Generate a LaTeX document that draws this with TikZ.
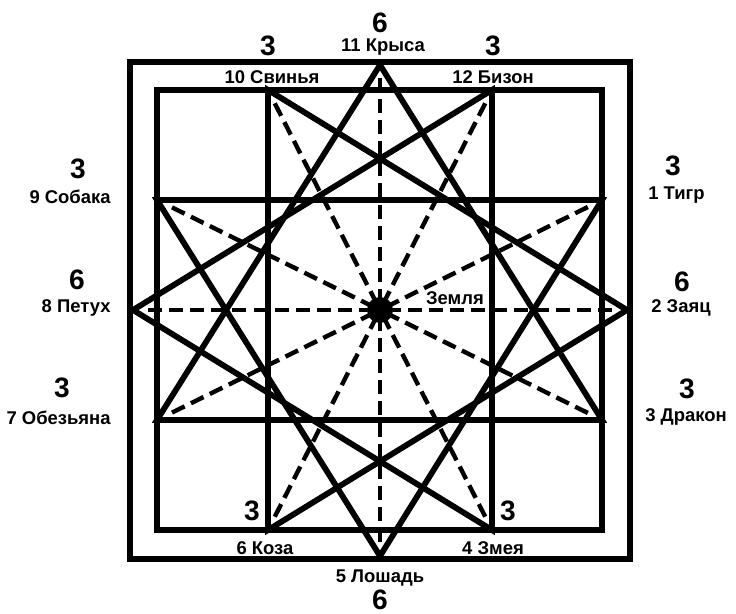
\documentclass[tikz,border=0pt]{standalone}
\usepackage{fontspec}
\setmainfont{Liberation Sans}
\usepackage{tikz}
\usetikzlibrary{calc}

\begin{document}
\begin{tikzpicture}[x=0.02cm, y=-0.02cm,
    frame/.style={line width=3.3pt},
    ray/.style={line width=2.5pt, dash pattern=on 8pt off 4pt, shorten >=7pt, shorten <=4pt},
    sign/.style={font=\bfseries\fontsize{10.5}{12}\selectfont, inner sep=0pt},
    num/.style={font=\bfseries\fontsize{16}{18}\selectfont, inner sep=0pt}]
    \useasboundingbox (0,0) rectangle (736,614);

    % twelve points of the star
    \coordinate (c) at (380,310);
    \coordinate (v1) at (602,200);
    \coordinate (v2) at (627,310);
    \coordinate (v3) at (602,420);
    \coordinate (v4) at (492,530);
    \coordinate (v5) at (380,556);
    \coordinate (v6) at (268,530);
    \coordinate (v7) at (157,420);
    \coordinate (v8) at (133,310);
    \coordinate (v9) at (157,200);
    \coordinate (v10) at (268,90);
    \coordinate (v11) at (380,65);
    \coordinate (v12) at (492,90);

    \foreach \i in {1,...,12}
        \draw[ray] (c) -- (v\i);

    \draw[frame] (130,62) rectangle (630,559);
    \draw[frame] (157,90) rectangle (602,530);
    \foreach \a/\b/\c in {11/3/7, 12/4/8, 1/5/9, 2/6/10}
        \draw[frame] (v\a) -- (v\b) -- (v\c) -- cycle;

    \fill (c) circle (13);
    \node[sign] (earth) at (455,298) {Земля};

    % signs and their numbers
    \node[num]  (n11) at (380,23) {6};
    \node[sign] (l11) at (383,47) {11 Крыса};
    \node[num]  (n10) at (268,46) {3};
    \node[sign] (l10) at (272,77) {10 Свинья};
    \node[num]  (n12) at (493,46) {3};
    \node[sign] (l12) at (493,77) {12 Бизон};

    \node[num]  (n9) at (78,169) {3};
    \node[sign, anchor=east] (l9) at (111,197) {9 Собака};
    \node[num]  (n8) at (77,280) {6};
    \node[sign, anchor=east] (l8) at (111,308) {8 Петух};
    \node[num]  (n7) at (62,388) {3};
    \node[sign, anchor=east] (l7) at (111,418) {7 Обезьяна};

    \node[num]  (n1) at (673,166) {3};
    \node[sign, anchor=west] (l1) at (648,195) {1 Тигр};
    \node[num]  (n2) at (682,282) {6};
    \node[sign, anchor=west] (l2) at (651,308) {2 Заяц};
    \node[num]  (n3) at (687,389) {3};
    \node[sign, anchor=west] (l3) at (645,417) {3 Дракон};

    \node[num]  (n6) at (252,511) {3};
    \node[sign] (l6) at (265,548) {6 Коза};
    \node[num]  (n4) at (508,511) {3};
    \node[sign] (l4) at (493,548) {4 Змея};
    \node[sign] (l5) at (380,578) {5 Лошадь};
    \node[num]  (n5) at (380,600) {6};
\end{tikzpicture}
\end{document}
